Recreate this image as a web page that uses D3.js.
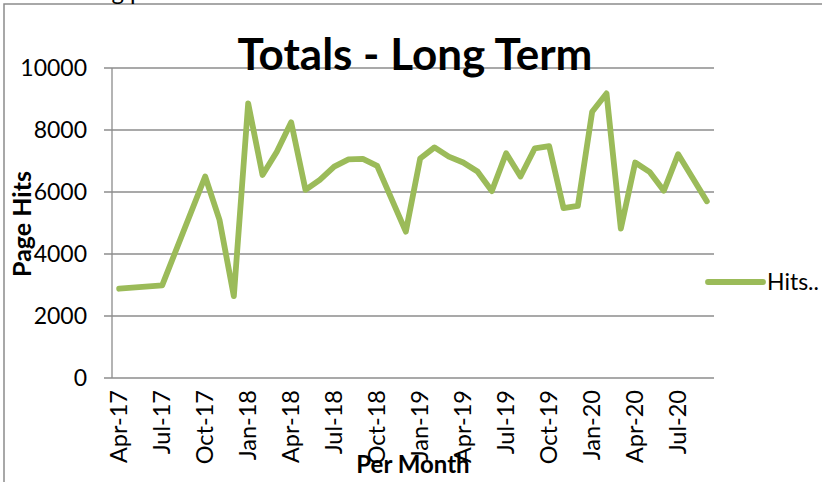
<!DOCTYPE html>
<html>
<head>
<meta charset="utf-8">
<script src="https://cdn.jsdelivr.net/npm/d3@7"></script>
<style>
  body { margin: 0; background: #fff; }
  text { font-family: Lato, "Noto Sans", sans-serif; fill: #000; }
</style>
</head>
<body>
<div id="chart"></div>
<script>
// Data (months with no point are simply absent)
const months = ["Apr-17","Jul-17","Oct-17","Nov-17","Dec-17","Jan-18","Feb-18","Mar-18","Apr-18","May-18",
    "Jun-18","Jul-18","Aug-18","Sep-18","Oct-18","Dec-18","Jan-19","Feb-19","Mar-19","Apr-19",
    "May-19","Jun-19","Jul-19","Aug-19","Sep-19","Oct-19","Nov-19","Dec-19","Jan-20","Feb-20",
    "Mar-20","Apr-20","May-20","Jun-20","Jul-20","Sep-20"];
const hits = [2880, 2990, 6500, 5100, 2640, 8860, 6550, 7300, 8250, 6070,
    6390, 6820, 7050, 7070, 6840, 4720, 7080, 7440, 7140, 6950,
    6660, 6030, 7250, 6500, 7410, 7480, 5480, 5550, 8590, 9180,
    4820, 6950, 6650, 6040, 7220, 5700];
const tickLabels = ["Apr-17","Jul-17","Oct-17","Jan-18","Apr-18","Jul-18","Oct-18",
    "Jan-19","Apr-19","Jul-19","Oct-19","Jan-20","Apr-20","Jul-20"];
const yTicks = [0, 2000, 4000, 6000, 8000, 10000];
const seriesName = "Hits..";

const W = 822, H = 482;
const margin = {top: 68, right: 108, bottom: 104, left: 112},
    width = W - margin.left - margin.right,
    height = H - margin.top - margin.bottom;
const lineColor = "#9bbb59", gridColor = "#8c8c8c";

const svg = d3.select("#chart").append("svg")
    .attr("width", W)
    .attr("height", H);

svg.append("rect").attr("width", W).attr("height", H).attr("fill", "#fff");

// outer chart border (open at the bottom and right, as cropped)
svg.append("path")
    .attr("d", "M4," + H + "V4H" + W)
    .attr("fill", "none")
    .attr("stroke", gridColor)
    .attr("stroke-width", 1.5);

// cropped text above the chart
svg.append("text")
    .attr("x", 98)
    .attr("y", 0)
    .style("font-size", "24px")
    .text("ng p");

const g = svg.append("g")
    .attr("transform", "translate(" + margin.left + "," + margin.top + ")");

// every month from Apr-17 to Sep-20 is one slot on the axis
const fmt = d3.timeFormat("%b-%y");
const allMonths = d3.timeMonth.range(new Date(2017, 3, 1), new Date(2020, 9, 1)).map(fmt);

const x = d3.scaleBand()
    .domain(allMonths)
    .range([0, width]);
const xc = m => x(m) + x.bandwidth() / 2;

const y = d3.scaleLinear()
    .domain([0, 10000])
    .range([height, 0]);

// gridlines + left tick marks
g.selectAll(".grid")
    .data(yTicks)
  .enter().append("line")
    .attr("class", "grid")
    .attr("x1", -8)
    .attr("x2", width)
    .attr("y1", d => y(d))
    .attr("y2", d => y(d))
    .attr("stroke", gridColor)
    .attr("stroke-width", 1.3);

g.append("line")
    .attr("x1", 0).attr("x2", 0)
    .attr("y1", 0).attr("y2", height)
    .attr("stroke", gridColor)
    .attr("stroke-width", 1.3);

// y tick labels
g.selectAll(".ylab")
    .data(yTicks)
  .enter().append("text")
    .attr("class", "ylab")
    .attr("x", -25)
    .attr("y", d => y(d))
    .attr("dy", "0.35em")
    .attr("text-anchor", "end")
    .style("font-size", "23px")
    .text(d => d);

// x tick labels, rotated
g.selectAll(".xlab")
    .data(tickLabels)
  .enter().append("text")
    .attr("class", "xlab")
    .attr("transform", d => "translate(" + xc(d) + "," + (height + 12) + ") rotate(-90)")
    .attr("dy", "0.35em")
    .attr("text-anchor", "end")
    .style("font-size", "23.5px")
    .text(d => d);

// the series
const line = d3.line()
    .x((d, i) => xc(months[i]))
    .y(d => y(d));

g.append("path")
    .datum(hits)
    .attr("d", line)
    .attr("fill", "none")
    .attr("stroke", lineColor)
    .attr("stroke-width", 5.8)
    .attr("stroke-linejoin", "round")
    .attr("stroke-linecap", "round");

// Title
svg.append("text")
    .attr("x", 415)
    .attr("y", 70)
    .attr("text-anchor", "middle")
    .style("font-size", "44px")
    .style("font-weight", "bold")
    .text("Totals - Long Term");

// Axis titles
svg.append("text")
    .attr("x", 413)
    .attr("y", 473)
    .attr("text-anchor", "middle")
    .style("font-size", "24px")
    .style("font-weight", "bold")
    .text("Per Month");

svg.append("text")
    .attr("transform", "translate(31,224) rotate(-90)")
    .attr("text-anchor", "middle")
    .style("font-size", "25px")
    .style("font-weight", "bold")
    .text("Page Hits");

// Legend
const legend = svg.append("g")
    .attr("transform", "translate(708,282)");

legend.append("line")
    .attr("x1", 0).attr("x2", 55)
    .attr("stroke", lineColor)
    .attr("stroke-width", 5.8)
    .attr("stroke-linecap", "round");

legend.append("text")
    .attr("x", 59)
    .attr("dy", "0.35em")
    .style("font-size", "23px")
    .text(seriesName);
</script>
</body>
</html>
